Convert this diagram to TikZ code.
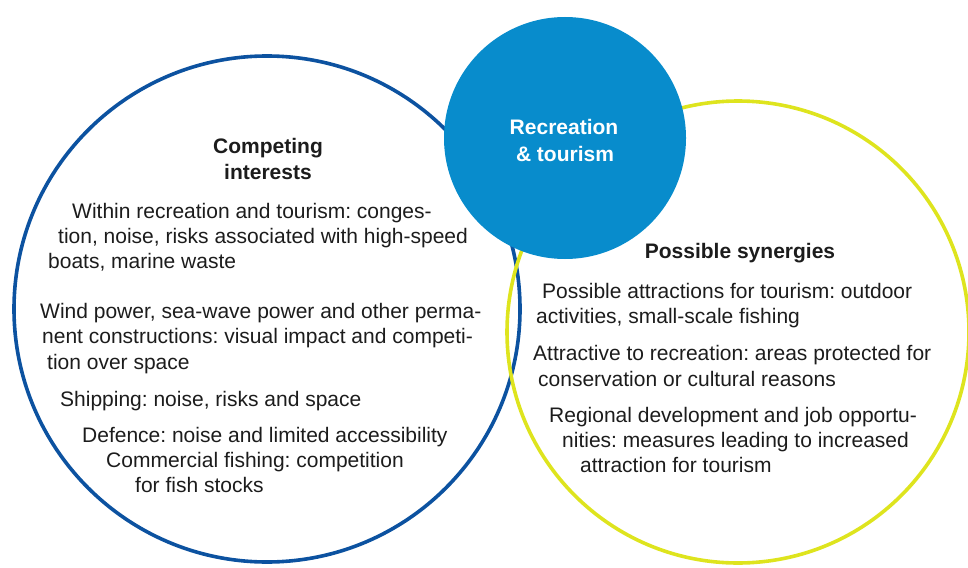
\documentclass[tikz,border=0pt]{standalone}
\usepackage{fontspec}
\setmainfont{Liberation Sans}
\usetikzlibrary{positioning}
\frenchspacing

\definecolor{ringblue}{RGB}{12,82,160}
\definecolor{ringyellow}{RGB}{222,228,30}
\definecolor{discblue}{RGB}{8,140,204}
\definecolor{inkgrey}{RGB}{28,28,28}

\begin{document}
\begin{tikzpicture}[
    x=1pt, y=-1pt,
    ring/.style={circle, draw, line width=3.6pt, inner sep=0},
    head/.style={font=\fontsize{21}{25}\selectfont\bfseries, text=inkgrey, inner sep=0, anchor=base},
    item/.style={font=\fontsize{21}{25}\selectfont, text=inkgrey, inner sep=0, anchor=base west},
  ]
  \useasboundingbox (0,0) rectangle (968,567);

  % the two rings and the disc on top
  \node[ring, draw=ringblue, minimum size=506] (comp) at (267,309) {};
  \node[ring, draw=ringyellow, minimum size=462] (syn) at (738,332) {};
  \node[circle, fill=discblue, minimum size=242, inner sep=0] (recr) at (565,138) {};
  \node[head, text=white] (recr1) at (564,135) {Recreation};
  \node[head, text=white] (recr2) at (565,161) {\& tourism};

  % competing interests
  \node[head] (comphead1) at (268,153) {Competing};
  \node[head] (comphead2) at (268,179) {interests};
  \node[item] (comp1) at (72,218) {Within recreation and tourism: conges-};
  \node[item] (comp2) at (58,243) {tion, noise, risks associated with high-speed};
  \node[item] (comp3) at (48,268) {boats, marine waste};
  \node[item] (comp4) at (40,318) {Wind power, sea-wave power and other perma-};
  \node[item] (comp5) at (42,343) {nent constructions: visual impact and competi-};
  \node[item] (comp6) at (47,369) {tion over space};
  \node[item] (comp7) at (60,406) {Shipping: noise, risks and space};
  \node[item] (comp8) at (82,442) {Defence: noise and limited accessibility};
  \node[item] (comp9) at (106,467) {Commercial fishing: competition};
  \node[item] (comp10) at (135,492) {for fish stocks};

  % possible synergies
  \node[head] (synhead) at (740,258) {Possible synergies};
  \node[item] (syn1) at (542,298) {Possible attractions for tourism: outdoor};
  \node[item] (syn2) at (536,323) {activities, small-scale fishing};
  \node[item] (syn3) at (533,360) {Attractive to recreation: areas protected for};
  \node[item] (syn4) at (538,386) {conservation or cultural reasons};
  \node[item] (syn5) at (549,422) {Regional development and job opportu-};
  \node[item] (syn6) at (562,447) {nities: measures leading to increased};
  \node[item] (syn7) at (580,472) {attraction for tourism};

\end{tikzpicture}
\end{document}
